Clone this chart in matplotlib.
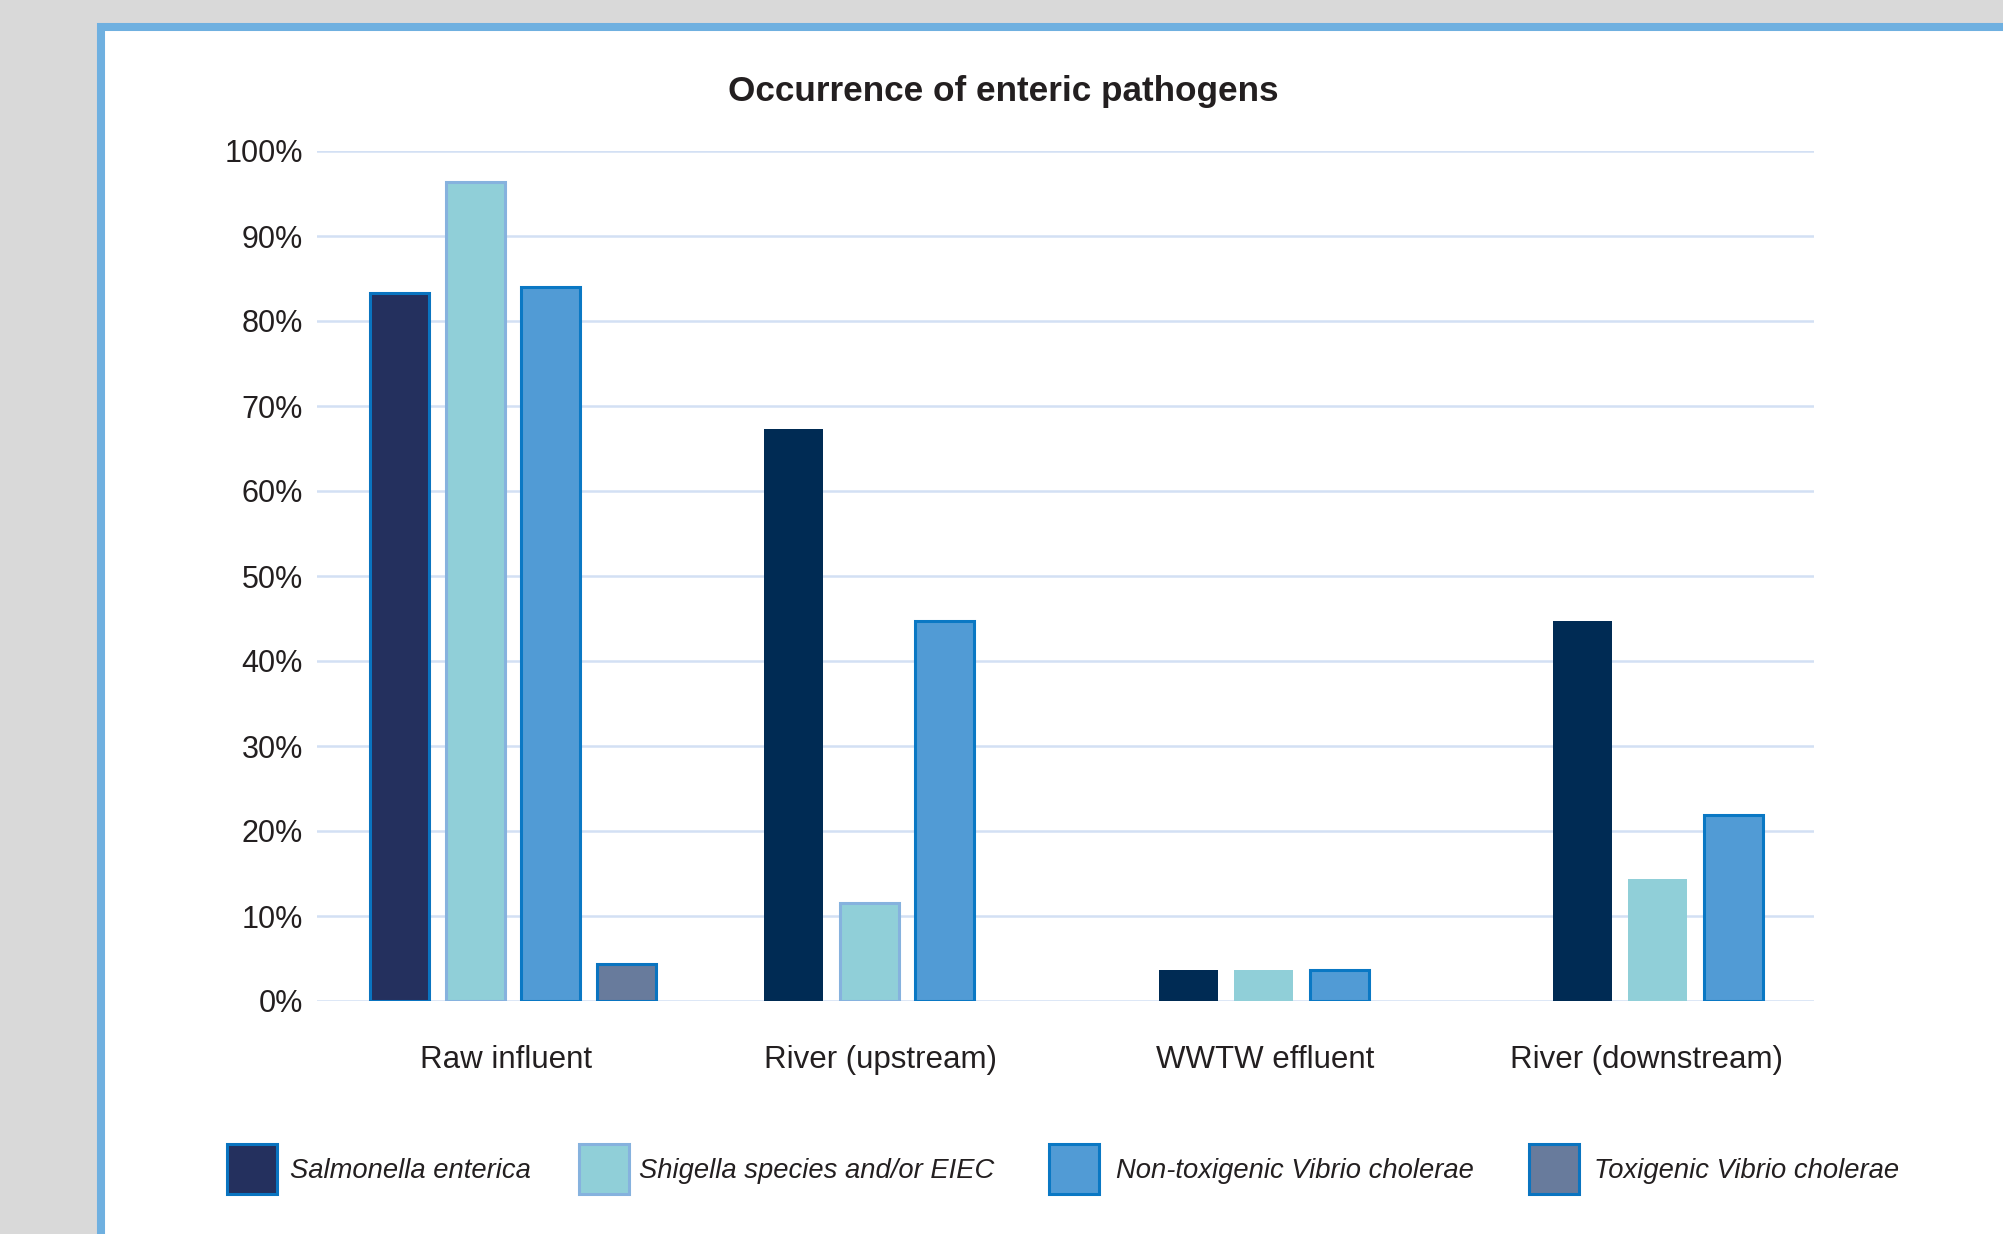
import numpy as np
import matplotlib
matplotlib.use('agg')
import matplotlib.pyplot as plt
from matplotlib.patches import Rectangle

# occurrence (% of samples positive) per sampling site
categories = ['Raw influent', 'River (upstream)', 'WWTW effluent',
              'River (downstream)']
series = ['Salmonella enterica', 'Shigella species and/or EIEC',
          'Non-toxigenic Vibrio cholerae', 'Toxigenic Vibrio cholerae']
salmonella = [83.3, 67.3, 3.7, 44.7]
shigella = [96.4, 11.5, 3.7, 14.4]
non_toxigenic = [84.0, 44.7, 3.7, 21.9]
toxigenic = [4.3, 0.0, 0.0, 0.0]
yticks = np.arange(0, 101, 10)

W, H = 2003, 1234
plt.rcParams['font.family'] = ['Liberation Sans', 'DejaVu Sans']
text_color = '#231f20'

# fill and outline for each series, per site
face = [['#24305e', '#002b54', '#002b54', '#002b54'],
        ['#90cfd8'] * 4,
        ['#519bd5'] * 4,
        ['#687b9c'] * 4]
edge = [['#0a74c0', 'none', 'none', 'none'],
        ['#86b2de', '#86b2de', 'none', 'none'],
        ['#0a78c4'] * 4,
        ['#0a74c0', 'none', 'none', 'none']]
legend_face = ['#24305e', '#90cfd8', '#519bd5', '#687b9c']
legend_edge = ['#0a74c0', '#86b2de', '#0a78c4', '#0a74c0']

fig = plt.figure(figsize=(W / 100., H / 100.), dpi=100)
fig.patch.set_facecolor('#d9d9d9')

# white panel with a blue frame running off the right and bottom
panel = Rectangle((101. / W, -0.5), 2.0, 1.5 - 27. / H,
                  transform=fig.transFigure, facecolor='white',
                  edgecolor='#6fb0e0', linewidth=5.8, zorder=-1)
fig.patches.append(panel)

ax = fig.add_axes([317. / W, (H - 1001.) / H, 1497. / W, 850. / H])
ax.set_facecolor('none')

pitch = 75.5 / 394.3
width = 59.0 / 394.3
x = np.arange(len(categories))
values = [salmonella, shigella, non_toxigenic, toxigenic]
for i, vals in enumerate(values):
    pos = x + (i - 1.5) * pitch
    for j in range(len(categories)):
        if vals[j] <= 0:
            continue
        lw = 0 if edge[i][j] == 'none' else 2.2
        ax.bar(pos[j], vals[j], width, color=face[i][j],
               edgecolor=edge[i][j], linewidth=lw, zorder=3)

ax.set_xlim(-0.497, 3.30)
ax.set_ylim(0, 100)
ax.set_yticks(yticks)
ax.set_yticklabels(['%d%%' % v for v in yticks])
ax.set_xticks([-0.018, 0.931, 1.907, 2.876])
ax.set_xticklabels(categories)
ax.tick_params(axis='y', length=0, pad=10, labelsize=22,
               labelcolor=text_color)
ax.tick_params(axis='x', length=0, pad=32, labelsize=22.5,
               labelcolor=text_color)
ax.yaxis.grid(True, color='#d3e0f4', linewidth=1.8, zorder=0)
ax.xaxis.grid(False)
ax.set_axisbelow(True)
for s in ax.spines.values():
    s.set_visible(False)

fig.text(1003. / W, 1 - 91.5 / H, 'Occurrence of enteric pathogens',
         ha='center', va='center', fontsize=25.3, fontweight='bold',
         color=text_color)

# legend: square swatches and italic names laid out in one row
swatch_x = [227, 579, 1049, 1529]
text_x = [290, 639, 1116, 1594]
sw = 50.
for k, name in enumerate(series):
    r = Rectangle((swatch_x[k] / W, 1 - 1194. / H), sw / W, sw / H,
                  transform=fig.transFigure, facecolor=legend_face[k],
                  edgecolor=legend_edge[k], linewidth=2.2)
    fig.patches.append(r)
    fig.text(text_x[k] / W, 1 - 1171.5 / H, name, ha='left', va='center',
             fontsize=19.7, fontstyle='italic', color=text_color)

fig.savefig('out.png', dpi=100, facecolor=fig.get_facecolor())
